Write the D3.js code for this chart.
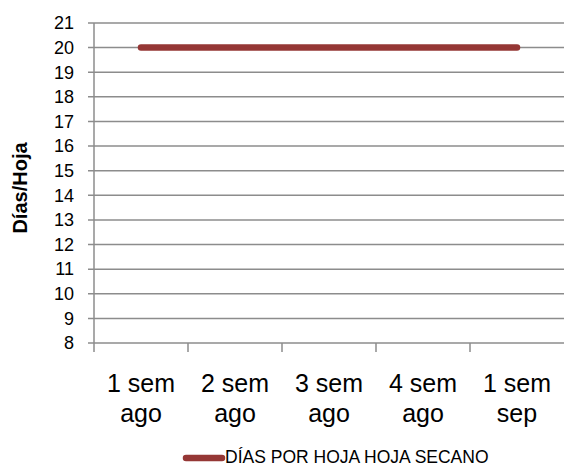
<!DOCTYPE html>
<html>
<head>
<meta charset="utf-8">
<script src="https://cdn.jsdelivr.net/npm/d3@7"></script>
<style>
body { margin: 0; background: #fff; }
text { font-family: "Liberation Sans", Arial, sans-serif; fill: #000; }
</style>
</head>
<body>
<div id="viz"></div>
<script>
var categories = [["1 sem", "ago"], ["2 sem", "ago"], ["3 sem", "ago"], ["4 sem", "ago"], ["1 sem", "sep"]];
var values = [20, 20, 20, 20, 20];
var yTicks = [8, 9, 10, 11, 12, 13, 14, 15, 16, 17, 18, 19, 20, 21];
var seriesName = "DÍAS POR HOJA HOJA SECANO";
var yTitle = "Días/Hoja";

var canw = 564, canh = 467;
var padL = 94, padR = 564, padT = 23, padB = 343;
var grid = "#8c8c8c";
var lineColor = "#953735";

var s = d3.select("#viz").append("svg")
    .attr("width", canw)
    .attr("height", canh);

var x = d3.scaleBand().domain(d3.range(categories.length)).range([padL, padR]);
var y = d3.scaleLinear().domain([8, 21]).range([padB, padT]);

// horizontal gridlines with small left ticks
s.append("g").selectAll("line").data(yTicks).enter().append("line")
    .attr("x1", padL - 6).attr("x2", padR)
    .attr("y1", function(d){ return y(d); })
    .attr("y2", function(d){ return y(d); })
    .style("stroke", grid).style("stroke-width", 1.5);

s.append("g").selectAll("text").data(yTicks).enter().append("text")
    .attr("x", padL - 20)
    .attr("y", function(d){ return y(d); })
    .attr("dy", "0.35em")
    .attr("text-anchor", "end")
    .style("font-size", "18px")
    .text(function(d){ return d; });

// y axis line
s.append("line")
    .attr("x1", padL).attr("x2", padL)
    .attr("y1", padT).attr("y2", padB)
    .style("stroke", grid).style("stroke-width", 1.5);

// x tick marks at band edges
var edges = d3.range(categories.length).map(function(i){ return x(i); });
s.append("g").selectAll("line").data(edges).enter().append("line")
    .attr("x1", function(d){ return d; }).attr("x2", function(d){ return d; })
    .attr("y1", padB).attr("y2", padB + 9)
    .style("stroke", grid).style("stroke-width", 1.5);

// category labels
var lab = s.append("g").selectAll("text").data(categories).enter().append("text")
    .attr("text-anchor", "middle")
    .style("font-size", "25px");
lab.each(function(d, i){
    var t = d3.select(this);
    var cx = x(i) + x.bandwidth() / 2;
    t.append("tspan").attr("x", cx).attr("y", 392).text(d[0]);
    t.append("tspan").attr("x", cx).attr("y", 422).text(d[1]);
});

// series line
var line = d3.line()
    .x(function(d, i){ return x(i) + x.bandwidth() / 2; })
    .y(function(d){ return y(d); });
s.append("path")
    .datum(values)
    .attr("d", line)
    .style("fill", "none")
    .style("stroke", lineColor)
    .style("stroke-width", 6.5)
    .style("stroke-linecap", "round");

// y title
s.append("text")
    .attr("transform", "translate(27,188) rotate(-90)")
    .attr("text-anchor", "middle")
    .style("font-size", "20px")
    .style("font-weight", "bold")
    .text(yTitle);

// legend
s.append("line")
    .attr("x1", 186).attr("x2", 222)
    .attr("y1", 458).attr("y2", 458)
    .style("stroke", lineColor)
    .style("stroke-width", 6.5)
    .style("stroke-linecap", "round");
s.append("text")
    .attr("x", 225).attr("y", 463)
    .style("font-size", "17.5px")
    .text(seriesName);
</script>
</body>
</html>
